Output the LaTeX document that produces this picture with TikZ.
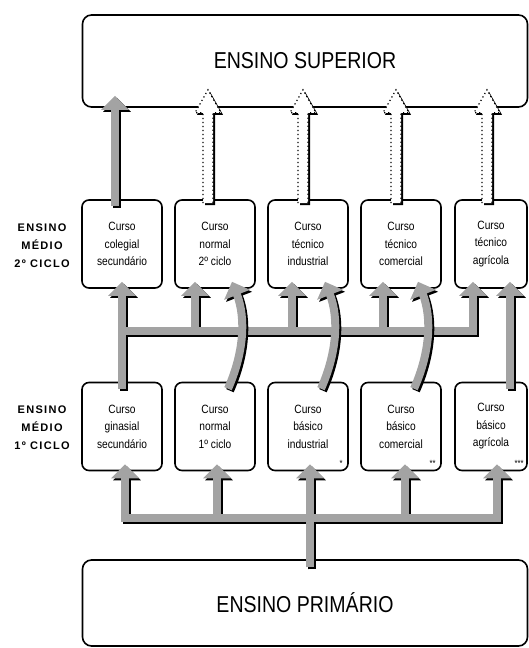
\documentclass[tikz,border=0pt]{standalone}
\usepackage{fontspec}
\setmainfont{Liberation Sans}[FakeStretch=0.85]
\newfontfamily\labelfont{Liberation Sans}[LetterSpace=12]
\usetikzlibrary{arrows.meta,calc}

\definecolor{arrowgray}{gray}{0.64}

\tikzset{
  every picture/.style={x=1pt,y=1pt},
  stage/.style={draw, line width=1.6pt, rounded corners=9pt, minimum width=445pt,
    font=\fontsize{23}{26}\selectfont},
  coursebox/.style={draw, line width=1.6pt, rounded corners=7pt, minimum width=80pt,
    minimum height=88pt, align=center, inner sep=2pt, font=\fontsize{12}{17.5}\selectfont},
  cyclelabel/.style={align=center, font=\labelfont\bfseries\fontsize{11}{18}\selectfont},
  notemark/.style={inner sep=0pt, anchor=south east, font=\fontsize{9}{9}\selectfont},
  flowbody/.style={line width=8pt, arrowgray, -{Triangle[width=27pt,length=14pt]}},
  flowshadow/.style={flowbody, black, transform canvas={shift={(2pt,-2pt)}}},
  hollowbody/.style={fill=white, draw=black, line width=1.2pt, dash pattern=on 1.2pt off 2.8pt},
  hollowshadow/.style={fill=black, transform canvas={shift={(2pt,-2pt)}}},
}

\begin{document}
\begin{tikzpicture}
\useasboundingbox (0,0) rectangle (529,648);

% levels
\node[stage, minimum height=92pt] (sup) at (305,587) {ENSINO SUPERIOR};
\node[stage, minimum height=86pt] (prim) at (305,45) {ENSINO PRIMÁRIO};

% ensino medio, 2o ciclo
\node[coursebox] (u1) at (122,404) {Curso\\colegial\\secundário};
\node[coursebox] (u2) at (215,404) {Curso\\normal\\2º ciclo};
\node[coursebox] (u3) at (308,404) {Curso\\técnico\\industrial};
\node[coursebox] (u4) at (401,404) {Curso\\técnico\\comercial};
\node[coursebox, minimum width=72pt] (u5) at (491,404) {Curso\\técnico\\agrícola};

% ensino medio, 1o ciclo
\node[coursebox] (l1) at (122,221.5) {Curso\\ginasial\\secundário};
\node[coursebox] (l2) at (215,221.5) {Curso\\normal\\1º ciclo};
\node[coursebox] (l3) at (308,221.5) {Curso\\básico\\industrial};
\node[coursebox] (l4) at (401,221.5) {Curso\\básico\\comercial};
\node[coursebox, minimum width=72pt] (l5) at (491,221.5) {Curso\\básico\\agrícola};

\node[notemark] (n3) at ([shift={(-6pt,5pt)}]l3.south east) {*};
\node[notemark] (n4) at ([shift={(-6pt,5pt)}]l4.south east) {**};
\node[notemark] (n5) at ([shift={(-4pt,5pt)}]l5.south east) {***};

\node[cyclelabel] (m2) at (42,402) {ENSINO\\MÉDIO\\2º CICLO};
\node[cyclelabel] (m1) at (42,220) {ENSINO\\MÉDIO\\1º CICLO};

% helper points
\coordinate (trunk) at ([shift={(5pt,-8pt)}]prim.north);
\coordinate (bb) at ($(prim.north)!0.47!(l1.south)$);
\coordinate (mb) at ($(l1.north)!0.55!(u1.south)$);
\foreach \b/\dx in {l1/3,l2/2,l3/2,l4/4,l5/6}
  \coordinate (\b-in) at ([shift={(\dx pt,7pt)}]\b.south);
\foreach \b/\dx in {u2/-20,u3/-16,u4/-18,u5/-18}
  \coordinate (\b-in) at ([shift={(\dx pt,7pt)}]\b.south);
\coordinate (l1-out) at ([yshift=-7pt]l1.north);
\coordinate (u1-in) at ([yshift=7pt]u1.south);
\coordinate (u1-out) at ([shift={(-7pt,-7pt)}]u1.north);

% grey flows
\foreach \lay in {flowshadow,flowbody}{
  \foreach \b in {l1,l2,l3,l4,l5}
    \draw[\lay] (trunk) -- (trunk |- bb) -- (\b-in |- bb) -- (\b-in);
  \draw[\lay] (l1-out) -- (u1-in);
  \foreach \b in {u2,u3,u4,u5}
    \draw[\lay] (l1-out) -- (l1-out |- mb) -- (\b-in |- mb) -- (\b-in);
  \draw[\lay] (u1-out) -- ($(u1-out |- sup.south)+(0,12)$);
}
\foreach \lay in {flowshadow,flowbody}{
  \foreach \k in {2,3,4}
    \draw[\lay] ([shift={(13pt,-7pt)}]l\k.north) .. controls +(16,36) and +(14,-36)
      .. ([shift={(17pt,7pt)}]u\k.south);
  \draw[\lay] ([shift={(19pt,-7pt)}]l5.north) -- ([shift={(19pt,7pt)}]u5.south);
}

% hollow arrows to ensino superior
\foreach \b/\dx in {u2/-7,u3/-5,u4/-5,u5/-4}{
  \coordinate (tl) at ([xshift=\dx pt]\b.north);
  \coordinate (hd) at (tl |- sup.south);
  \foreach \lay in {hollowshadow,hollowbody}
    \path[\lay] ($(tl)+(-5,-4)$) -- ($(hd)+(-5,-5)$) -- ($(hd)+(-13,-5)$) -- ($(hd)+(0,18)$)
      -- ($(hd)+(13,-5)$) -- ($(hd)+(5,-5)$) -- ($(tl)+(5,-4)$);
}
\end{tikzpicture}
\end{document}
